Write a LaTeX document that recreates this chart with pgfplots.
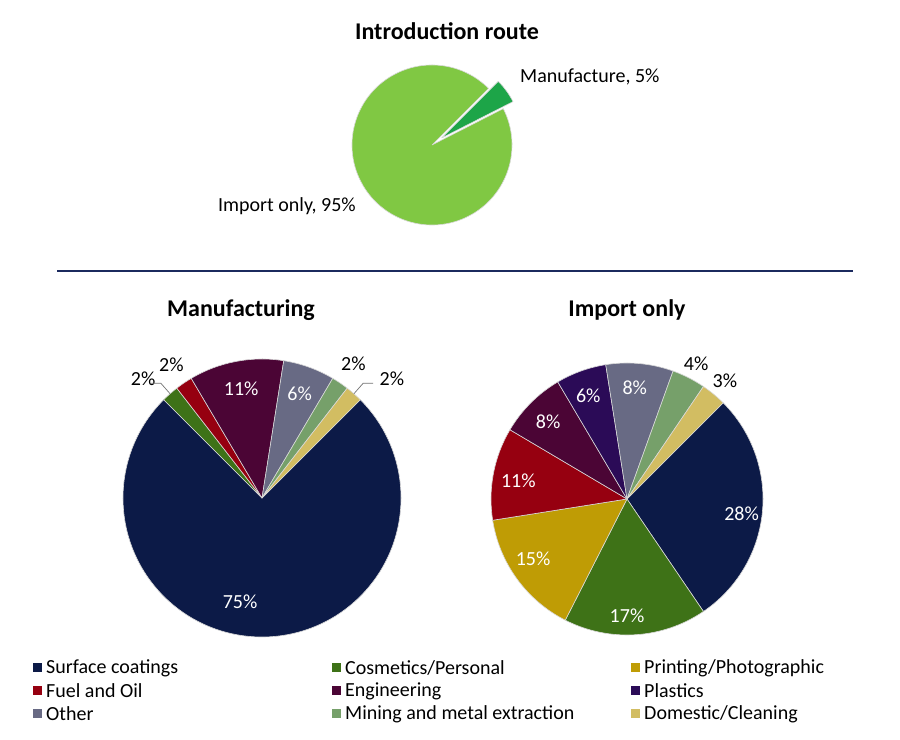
\documentclass[border=0pt]{standalone}
\usepackage{fontspec}
\setmainfont{Carlito}
\usepackage{pgfplots}
\usepackage{pgfplotstable}
\pgfplotsset{compat=1.18}

\definecolor{cSurf}{HTML}{0C1A47}
\definecolor{cCosm}{HTML}{3E7217}
\definecolor{cPrnt}{HTML}{BF9C05}
\definecolor{cFuel}{HTML}{960010}
\definecolor{cEngi}{HTML}{4B0535}
\definecolor{cPlas}{HTML}{2B0B57}
\definecolor{cOthr}{HTML}{686A84}
\definecolor{cMine}{HTML}{76A06A}
\definecolor{cDome}{HTML}{D2BD62}
\definecolor{cImpo}{HTML}{80C843}
\definecolor{cManu}{HTML}{1DA548}
\definecolor{cRule}{HTML}{1B2A5E}

\newcommand\pctfont{\fontsize{20bp}{24bp}\selectfont}
\newcommand\ttlfont{\fontsize{24bp}{28bp}\selectfont\bfseries}

% pct = share, ldist = label distance (x radius), lshift = label angle offset
\pgfplotstableread{
pct col   ldist lshift txt   lead expl
5   cManu 0     0      black 0    12
95  cImpo 0     0      black 0    0
}\toptab

\pgfplotstableread{
pct col   ldist lshift txt   lead expl
75  cSurf 0.76  -12    white 0    0
2   cCosm 1.21  3.6    black 1    0
2   cFuel 1.16  0      black 0    0
11  cEngi 0.80  0      white 0    0
6   cOthr 0.80  0      white 0    0
2   cMine 1.17  0      black 0    0
2   cDome 1.27  -6     black 1    0
}\manutab

\pgfplotstableread{
pct col   ldist lshift txt   lead expl
28  cSurf 0.85  -2     white 0    0
17  cCosm 0.86  -3.6   white 0    0
15  cPrnt 0.82  -3.4   white 0    0
11  cFuel 0.81  1.5    white 0    0
8   cEngi 0.81  0.7    white 0    0
6   cPlas 0.81  0.8    white 0    0
8   cOthr 0.82  1.4    white 0    0
4   cMine 1.12  0      black 0    0
3   cDome 1.13  0      black 0    0
}\imptab

% #1 table, #2 cx, #3 cy, #4 radius; slices run clockwise from 45 degrees
\newcommand\pieslices[4]{%
  \pgfplotstablegetrowsof{#1}%
  \pgfmathtruncatemacro\lastrow{\pgfplotsretval-1}%
  \def\startang{45}%
  \pgfplotsforeachungrouped \i in {0,...,\lastrow}{%
    \pgfplotstablegetelem{\i}{pct}\of{#1}\let\pct\pgfplotsretval
    \pgfplotstablegetelem{\i}{col}\of{#1}\let\col\pgfplotsretval
    \pgfplotstablegetelem{\i}{expl}\of{#1}\let\expl\pgfplotsretval
    \pgfmathsetmacro\endang{\startang-3.6*\pct}%
    \pgfmathsetmacro\midang{(\startang+\endang)/2}%
    \pgfmathsetmacro\ox{#2+\expl*cos(\midang)}%
    \pgfmathsetmacro\oy{#3+\expl*sin(\midang)}%
    \edef\cmd{\noexpand\filldraw[fill=\col,draw=white!70!gray,line width=0.6pt,line join=round]
      (axis cs:\ox,\oy) -- ++(\startang:#4bp)
      arc[start angle=\startang,end angle=\endang,radius=#4bp] -- cycle;}%
    \cmd
    \let\startang\endang
  }%
}

\newcommand\pielabels[4]{%
  \pgfplotstablegetrowsof{#1}%
  \pgfmathtruncatemacro\lastrow{\pgfplotsretval-1}%
  \def\startang{45}%
  \pgfplotsforeachungrouped \i in {0,...,\lastrow}{%
    \pgfplotstablegetelem{\i}{pct}\of{#1}\let\pct\pgfplotsretval
    \pgfplotstablegetelem{\i}{ldist}\of{#1}\let\ldist\pgfplotsretval
    \pgfplotstablegetelem{\i}{lshift}\of{#1}\let\lshift\pgfplotsretval
    \pgfplotstablegetelem{\i}{txt}\of{#1}\let\txt\pgfplotsretval
    \pgfplotstablegetelem{\i}{lead}\of{#1}\let\lead\pgfplotsretval
    \pgfmathsetmacro\endang{\startang-3.6*\pct}%
    \pgfmathsetmacro\midang{(\startang+\endang)/2}%
    \pgfmathsetmacro\la{\midang+\lshift}%
    \pgfmathsetmacro\lx{#2+\ldist*#4*cos(\la)}%
    \pgfmathsetmacro\ly{#3+\ldist*#4*sin(\la)}%
    \edef\cmd{\noexpand\node[text=\txt,font=\noexpand\pctfont,inner sep=0pt]
      at (axis cs:\lx,\ly) {\pct\noexpand\%};}%
    \cmd
    \ifnum\lead=1
      \pgfmathsetmacro\ax{#2+#4*cos(\midang)}%
      \pgfmathsetmacro\ay{#3+#4*sin(\midang)}%
      \pgfmathsetmacro\bx{#2+1.1*#4*cos(\midang)}%
      \pgfmathsetmacro\by{#3+1.1*#4*sin(\midang)}%
      \pgfmathsetmacro\cx{\bx+(cos(\midang)>0 ? 10 : -10)}%
      \edef\cmd{\noexpand\draw[black!55,line width=0.7pt]
        (axis cs:\ax,\ay) -- (axis cs:\bx,\by) -- (axis cs:\cx,\by);}%
      \cmd
    \fi
    \let\startang\endang
  }%
}

\begin{document}
\begin{tikzpicture}
\begin{axis}[
  x=1bp, y=1bp,
  xmin=0, xmax=900, ymin=0, ymax=740,
  enlargelimits=false,
  hide axis,
  clip=false,
]
\fill[white] (axis cs:0,0) rectangle (axis cs:900,740);

% top pie
\node[font=\ttlfont] at (axis cs:447,709) {Introduction route};
\pieslices{\toptab}{432}{595}{80}
\node[anchor=west,font=\pctfont,inner sep=0pt] at (axis cs:520,663) {Manufacture, 5\%};
\node[anchor=east,font=\pctfont,inner sep=0pt] at (axis cs:356,534) {Import only, 95\%};

\draw[cRule,line width=1.3pt] (axis cs:57,469) -- (axis cs:853,469);

% manufacturing
\node[font=\ttlfont] at (axis cs:241,430) {Manufacturing};
\pieslices{\manutab}{262}{242}{139}
\pielabels{\manutab}{262}{242}{139}

% import only
\node[font=\ttlfont] at (axis cs:627,430) {Import only};
\pieslices{\imptab}{627}{241}{136}
\pielabels{\imptab}{627}{241}{136}

% legend
\fill[cSurf] (axis cs:33,67.5) rectangle (axis cs:42,76.5);
\node[anchor=west,font=\pctfont,inner sep=0pt] at (axis cs:46,72) {Surface coatings};
\fill[cCosm] (axis cs:332,67.5) rectangle (axis cs:341,76.5);
\node[anchor=west,font=\pctfont,inner sep=0pt] at (axis cs:345,72) {Cosmetics/Personal};
\fill[cPrnt] (axis cs:631,67.5) rectangle (axis cs:640,76.5);
\node[anchor=west,font=\pctfont,inner sep=0pt] at (axis cs:644,72) {Printing/Photographic};
\fill[cFuel] (axis cs:33,44.5) rectangle (axis cs:42,53.5);
\node[anchor=west,font=\pctfont,inner sep=0pt] at (axis cs:46,49) {Fuel and Oil};
\fill[cEngi] (axis cs:332,44.5) rectangle (axis cs:341,53.5);
\node[anchor=west,font=\pctfont,inner sep=0pt] at (axis cs:345,49) {Engineering};
\fill[cPlas] (axis cs:631,44.5) rectangle (axis cs:640,53.5);
\node[anchor=west,font=\pctfont,inner sep=0pt] at (axis cs:644,49) {Plastics};
\fill[cOthr] (axis cs:33,21.5) rectangle (axis cs:42,30.5);
\node[anchor=west,font=\pctfont,inner sep=0pt] at (axis cs:46,26) {Other};
\fill[cMine] (axis cs:332,21.5) rectangle (axis cs:341,30.5);
\node[anchor=west,font=\pctfont,inner sep=0pt] at (axis cs:345,26) {Mining and metal extraction};
\fill[cDome] (axis cs:631,21.5) rectangle (axis cs:640,30.5);
\node[anchor=west,font=\pctfont,inner sep=0pt] at (axis cs:644,26) {Domestic/Cleaning};
\end{axis}
\end{tikzpicture}
\end{document}
